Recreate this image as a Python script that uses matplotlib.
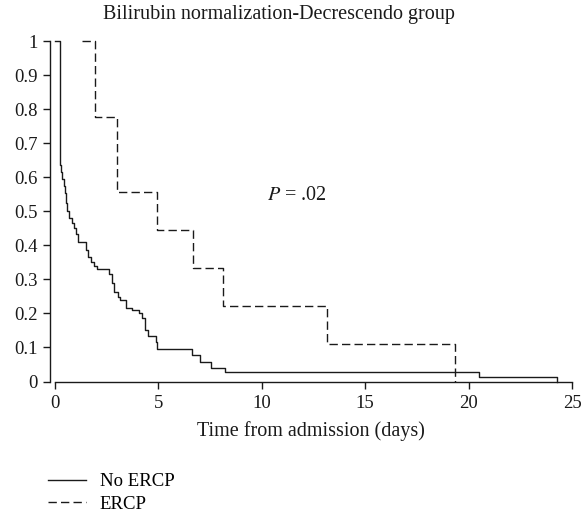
import numpy as np
import matplotlib
matplotlib.use("Agg")
import matplotlib.pyplot as plt

plt.rcParams['font.family'] = ['Liberation Serif', 'DejaVu Serif']

# Kaplan-Meier steps
no_ercp_t = [0.00, 0.24, 0.30, 0.36, 0.42, 0.48, 0.55, 0.60, 0.70, 0.80, 0.90, 1.00,
             1.10, 1.50, 1.60, 1.75, 1.90, 2.05, 2.61, 2.76, 2.85, 3.05, 3.14, 3.43,
             3.72, 4.06, 4.20, 4.35, 4.50, 4.88, 4.95, 6.61, 7.01, 7.53, 8.22, 9.28,
             20.52, 24.26]
no_ercp_s = [1.000, 0.635, 0.615, 0.595, 0.575, 0.555, 0.525, 0.500, 0.480, 0.465, 0.450, 0.432,
             0.410, 0.385, 0.365, 0.350, 0.340, 0.329, 0.316, 0.290, 0.263, 0.248, 0.240, 0.216,
             0.210, 0.200, 0.186, 0.150, 0.135, 0.115, 0.095, 0.078, 0.058, 0.040, 0.027, 0.027,
             0.014, 0.000]

ercp_t = [1.30, 1.93, 3.01, 4.95, 6.66, 8.11, 13.15, 19.34]
ercp_s = [1.000, 0.778, 0.556, 0.444, 0.333, 0.222, 0.111, 0.000]

x_ticks = [0, 5, 10, 15, 20, 25]
y_ticks = [0, 0.1, 0.2, 0.3, 0.4, 0.5, 0.6, 0.7, 0.8, 0.9, 1.0]
y_tick_labels = ["0", "0.1", "0.2", "0.3", "0.4", "0.5", "0.6", "0.7", "0.8", "0.9", "1"]

fig = plt.figure(figsize=(5.82, 5.14), dpi=100)
ax = fig.add_axes([50 / 582, 1 - 381.5 / 514, 522 / 582, 340.5 / 514])

l1, = ax.step(no_ercp_t, no_ercp_s, where="post", color="#1a1a1a", lw=1.0,
              clip_on=False, label="No ERCP")
l2, = ax.step(ercp_t, ercp_s, where="post", color="#1a1a1a", lw=1.0,
              linestyle=(0, (6, 3)), clip_on=False, label="ERCP")

ax.set_xlim(-0.24, 25)
ax.set_ylim(0, 1)
ax.set_xticks(x_ticks)
ax.set_yticks(y_ticks)
ax.set_yticklabels(y_tick_labels)
ax.tick_params(direction="out", length=5, width=1.0, labelsize=13.5, colors="#1a1a1a")
ax.tick_params(axis="y", pad=4)
ax.tick_params(axis="x", pad=5)
for s in ["top", "right"]:
    ax.spines[s].set_visible(False)
ax.spines["bottom"].set_bounds(0, 25)
for s in ["left", "bottom"]:
    ax.spines[s].set_linewidth(1.0)
    ax.spines[s].set_color("#1a1a1a")

ax.set_xlabel("Time from admission (days)", fontsize=14.5, color="#1a1a1a", labelpad=6)
fig.text(279 / 582, 1 - 14 / 514, "Bilirubin normalization-Decrescendo group",
         ha="center", va="center", fontsize=14.5, color="#1a1a1a")
ax.text(10.25, 0.545, r"$P$ = .02", fontsize=14.5, color="#1a1a1a", va="center",
        math_fontfamily="stix")

fig.legend(handles=[l1, l2], loc="upper left", bbox_to_anchor=(48 / 582, 1 - 473 / 514),
           frameon=False, fontsize=13.5, handlelength=2.0, handletextpad=0.75,
           labelspacing=0.3, borderpad=0, borderaxespad=0)

fig.savefig("out.png", dpi=100)
